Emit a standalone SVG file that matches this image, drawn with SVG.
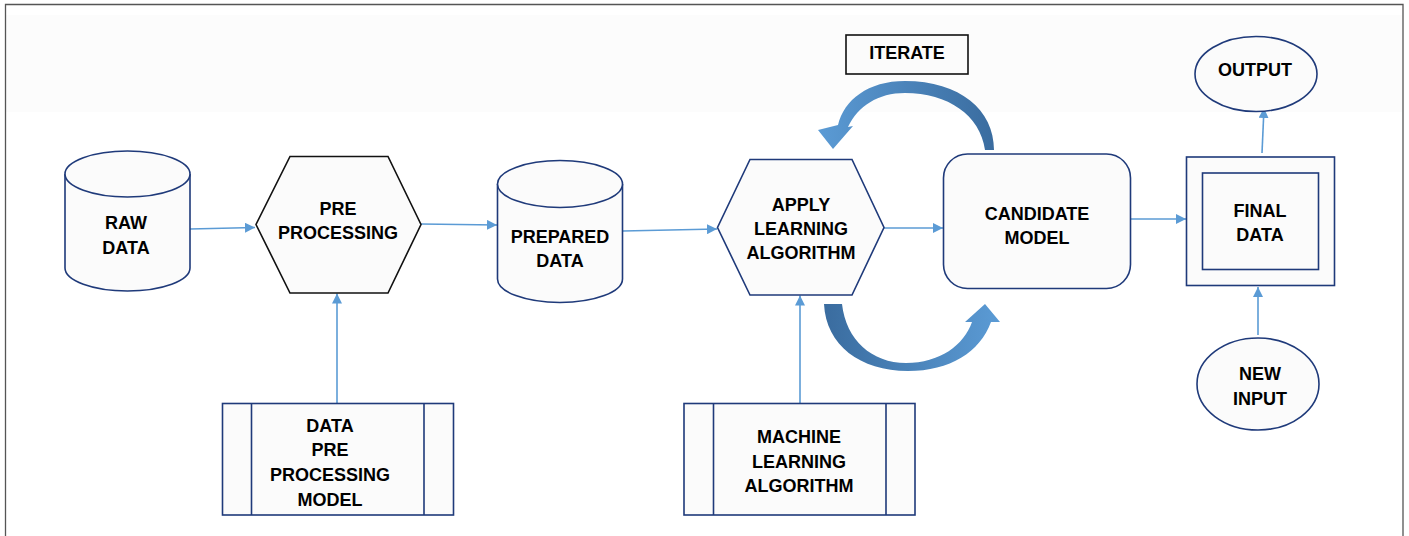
<svg xmlns="http://www.w3.org/2000/svg" width="1409" height="536" viewBox="0 0 1409 536">
<defs>
<style>
.t{font-family:"Liberation Sans",Arial,sans-serif;font-weight:bold;font-size:18px;fill:#000;text-anchor:middle;dominant-baseline:central}
.n{fill:#fbfbfb;stroke:#1f3a7a;stroke-width:1.6}
.k{fill:#fbfbfb;stroke:#111;stroke-width:1.6}
.c{fill:none;stroke:#5b9bd5;stroke-width:1.6}
</style>
<marker id="ah" viewBox="0 0 10 10" refX="10" refY="5" markerWidth="10" markerHeight="10" markerUnits="userSpaceOnUse" orient="auto">
<path d="M0 0 L10 5 L0 10 Z" fill="#5b9bd5"/>
</marker>
<linearGradient id="gTop" x1="1" y1="0" x2="0" y2="0">
<stop offset="0" stop-color="#3a6c9f"/>
<stop offset="1" stop-color="#5b9bd5"/>
</linearGradient>
<linearGradient id="gBot" x1="0" y1="0" x2="1" y2="0">
<stop offset="0" stop-color="#3a6c9f"/>
<stop offset="1" stop-color="#5b9bd5"/>
</linearGradient>
</defs>
<rect x="0" y="0" width="1409" height="536" fill="#fff"/>
<rect x="6" y="15" width="1396" height="97" fill="#fcfcfc"/>
<path d="M5.5 536 V4.5 H1403 V536" fill="none" stroke="#555" stroke-width="1.3"/>

<g id="connectors">
<path class="c" d="M190 229 L255 227.5" marker-end="url(#ah)"/>
<path class="c" d="M421 224 L497 225" marker-end="url(#ah)"/>
<path class="c" d="M623 231 L717 229" marker-end="url(#ah)"/>
<path class="c" d="M884 228 L943 228" marker-end="url(#ah)"/>
<path class="c" d="M1131 219 L1186 219" marker-end="url(#ah)"/>
<path class="c" d="M1262 153 L1264 108" marker-end="url(#ah)"/>
<path class="c" d="M1258 335 L1258 287" marker-end="url(#ah)"/>
<path class="c" d="M337 403 L337 293.5" marker-end="url(#ah)"/>
<path class="c" d="M800 403 L800 295.5" marker-end="url(#ah)"/>
<path id="iterTop" fill="url(#gTop)" d="M994 150 C994 110 960 81 905 81 C868 81 844 100 838 125 L818 130 L833 149 L853 126 L848 127 C858 106 878 93 905 93 C948 93 980 115 985 150 Z"/>
<path id="iterBot" fill="url(#gBot)" d="M824 304 L842 304 C846 340 872 363 906 363 C940 363 964 345 972 322 L965 322 L985 304 L1000 322 L991 322 C980 352 950 371 908 371 C860 371 826 345 824 304 Z"/>
</g>

<g id="raw-data">
<path class="n" d="M65 174 L65 268 A62.5 23 0 0 0 190 268 L190 174"/>
<ellipse class="n" cx="127.5" cy="174" rx="62.5" ry="23"/>
<text class="t" x="126" y="223">RAW</text>
<text class="t" x="126" y="248">DATA</text>
</g>

<g id="pre-processing">
<polygon class="k" points="290,156.5 388,156.5 421,224.5 388,293 290,293 256,224.5"/>
<text class="t" x="338" y="209">PRE</text>
<text class="t" x="338" y="233">PROCESSING</text>
</g>

<g id="prepared-data">
<path class="n" d="M497.5 184 L497.5 279 A62.5 23.5 0 0 0 622.5 279 L622.5 184"/>
<ellipse class="n" cx="560" cy="184" rx="62.5" ry="23.5"/>
<text class="t" x="560" y="237">PREPARED</text>
<text class="t" x="560" y="261">DATA</text>
</g>

<g id="apply-learning">
<polygon class="n" points="750,159.5 852,159.5 884,227.5 852,295 750,295 717.5,227.5"/>
<text class="t" x="801" y="205">APPLY</text>
<text class="t" x="801" y="229">LEARNING</text>
<text class="t" x="801" y="253">ALGORITHM</text>
</g>

<g id="candidate-model">
<rect class="n" x="943.5" y="154" width="187" height="134.5" rx="24" ry="24"/>
<text class="t" x="1037" y="213.5">CANDIDATE</text>
<text class="t" x="1037" y="238">MODEL</text>
</g>

<g id="iterate">
<rect class="k" x="846" y="35" width="122" height="39" fill="#fff"/>
<text class="t" x="907" y="52.5">ITERATE</text>
</g>

<g id="final-data">
<rect class="n" x="1186.5" y="157" width="148" height="128.5"/>
<rect class="n" x="1202.5" y="173" width="116" height="96.5"/>
<text class="t" x="1260" y="211">FINAL</text>
<text class="t" x="1260" y="235">DATA</text>
</g>

<g id="output">
<ellipse class="n" cx="1256" cy="74" rx="61" ry="37.5"/>
<text class="t" x="1255" y="70">OUTPUT</text>
</g>

<g id="new-input">
<ellipse class="n" cx="1258" cy="384" rx="61" ry="46"/>
<text class="t" x="1260" y="374">NEW</text>
<text class="t" x="1260" y="398.5">INPUT</text>
</g>

<g id="data-pre-processing-model">
<rect class="n" x="222.5" y="403.5" width="231" height="111.5"/>
<line class="n" x1="251.5" y1="403.5" x2="251.5" y2="515"/>
<line class="n" x1="424" y1="403.5" x2="424" y2="515"/>
<text class="t" x="330" y="426">DATA</text>
<text class="t" x="330" y="450">PRE</text>
<text class="t" x="330" y="475">PROCESSING</text>
<text class="t" x="330" y="499.5">MODEL</text>
</g>

<g id="machine-learning-algorithm">
<rect class="n" x="684" y="403.5" width="231" height="111.5"/>
<line class="n" x1="713.5" y1="403.5" x2="713.5" y2="515"/>
<line class="n" x1="886" y1="403.5" x2="886" y2="515"/>
<text class="t" x="799" y="437">MACHINE</text>
<text class="t" x="799" y="461.5">LEARNING</text>
<text class="t" x="799" y="486">ALGORITHM</text>
</g>
</svg>
